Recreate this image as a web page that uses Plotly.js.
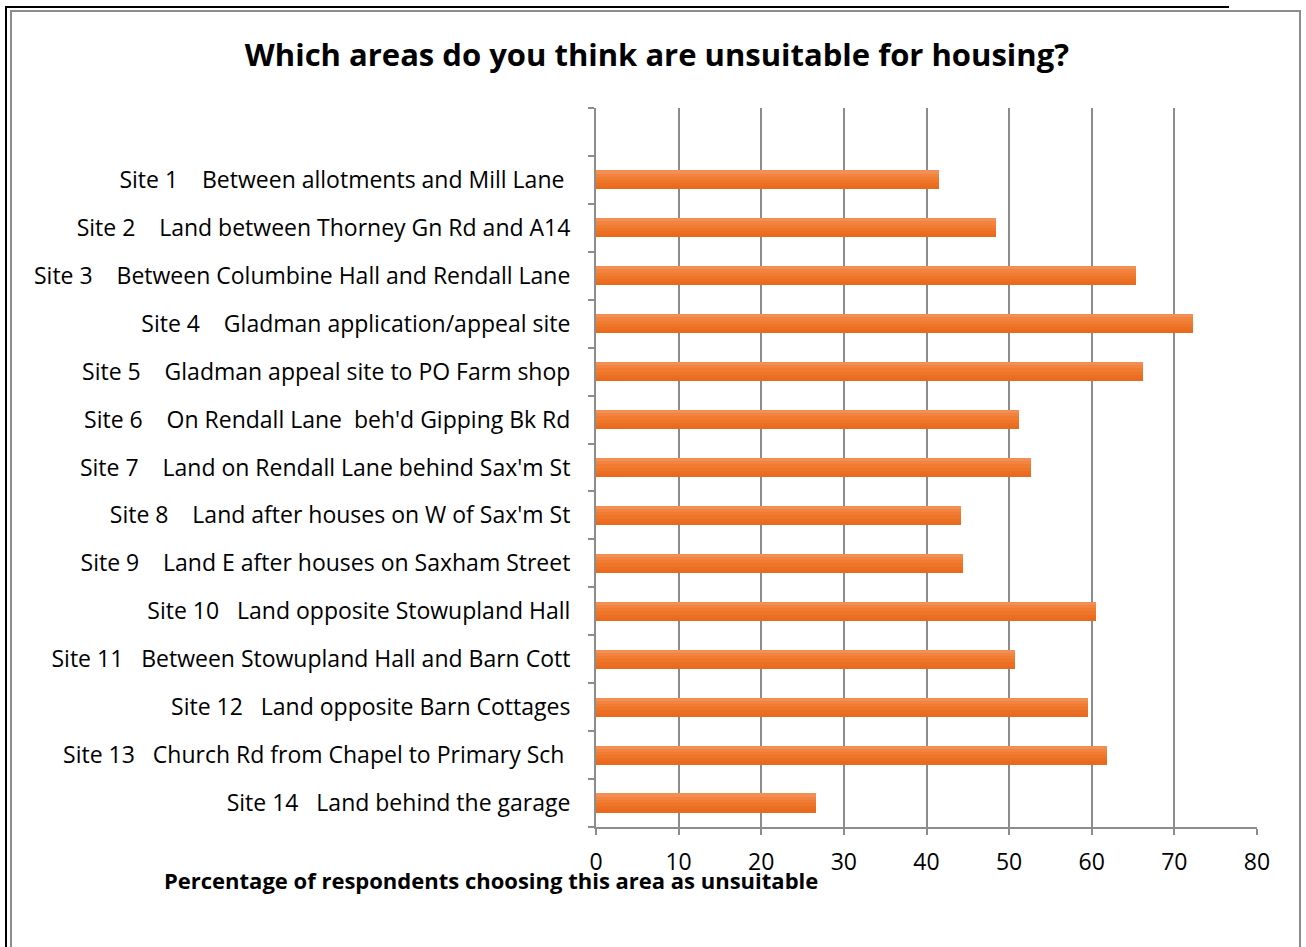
<!DOCTYPE html>
<html>
<head>
<meta charset="utf-8">
<script src="https://cdn.plot.ly/plotly-3.0.1.min.js"></script>
<style>
  html, body { margin: 0; padding: 0; background: #fff; }
  #wrap { position: relative; width: 1306px; height: 947px; overflow: hidden; }
  #chart { position: absolute; left: 0; top: 0; width: 1306px; height: 947px; }
  .frame { position: absolute; pointer-events: none; }
</style>
</head>
<body>
<div id="wrap">
  <div id="chart"></div>
  <div class="frame" style="left:5px; top:6px; width:1224px; height:2px; background:#000;"></div>
  <div class="frame" style="left:5px; top:6px; width:2px; height:941px; background:#000;"></div>
  <div class="frame" style="left:10px; top:10px; width:1291px; height:2px; background:#8c8c8c;"></div>
  <div class="frame" style="left:10px; top:10px; width:2px; height:937px; background:#8c8c8c;"></div>
  <div class="frame" style="left:1299px; top:10px; width:2px; height:937px; background:#8c8c8c;"></div>
</div>
<script>
// ---- data ----
const siteLabels = [
  "Site 1    Between allotments and Mill Lane ",
  "Site 2    Land between Thorney Gn Rd and A14",
  "Site 3    Between Columbine Hall and Rendall Lane",
  "Site 4    Gladman application/appeal site",
  "Site 5    Gladman appeal site to PO Farm shop",
  "Site 6    On Rendall Lane  beh'd Gipping Bk Rd",
  "Site 7    Land on Rendall Lane behind Sax'm St",
  "Site 8    Land after houses on W of Sax'm St",
  "Site 9    Land E after houses on Saxham Street",
  "Site 10   Land opposite Stowupland Hall",
  "Site 11   Between Stowupland Hall and Barn Cott",
  "Site 12   Land opposite Barn Cottages",
  "Site 13   Church Rd from Chapel to Primary Sch ",
  "Site 14   Land behind the garage"
];
const pctUnsuitable = [41.5, 48.4, 65.4, 72.2, 66.2, 51.2, 52.6, 44.2, 44.4, 60.5, 50.7, 59.5, 61.8, 26.6];
const xTickValues = [0, 10, 20, 30, 40, 50, 60, 70, 80];
const chartTitle = "Which areas do you think are unsuitable for housing?";
const xAxisTitle = "Percentage of respondents choosing this area as unsuitable";

// ---- build ----
const nb = s => s.replace(/ /g, "\u00a0");
const cats = siteLabels.map(nb);
const blankCat = "\u00a0";
const catOrder = cats.slice().reverse().concat([blankCat]);

// gradient bands (bottom -> top)
const bandColors = ["#E86B1D", "#EB6F22", "#EE7529", "#F07C32", "#F2843F", "#F38E55"];
const barThick = 0.4;
const bw = barThick / bandColors.length;
const traces = bandColors.map((c, k) => ({
  type: "bar",
  orientation: "h",
  x: pctUnsuitable,
  y: cats,
  width: bw,
  offset: -barThick / 2 + k * bw,
  marker: { color: c, line: { width: 0 } },
  hoverinfo: k === 0 ? "x+y" : "skip",
  showlegend: false
}));

const font = "Open Sans, Liberation Sans, Arial, sans-serif";
const layout = {
  width: 1306,
  height: 947,
  margin: { l: 596, r: 49, t: 108, b: 120, pad: 0 },
  paper_bgcolor: "#ffffff",
  plot_bgcolor: "#ffffff",
  barmode: "overlay",
  bargap: 0,
  font: { family: font, color: "#000" },
  title: {
    text: "<b>" + chartTitle + "</b>",
    font: { family: font, size: 31, color: "#000" },
    x: 0.503, xanchor: "center", xref: "container",
    y: 1 - 55 / 947, yanchor: "middle", yref: "container"
  },
  xaxis: {
    range: [0, 80],
    tickmode: "array",
    tickvals: xTickValues,
    ticktext: xTickValues.map(String),
    showgrid: true,
    gridcolor: "#8c8c8c",
    gridwidth: 2,
    zeroline: false,
    showline: true,
    linecolor: "#8c8c8c",
    linewidth: 2,
    ticks: "outside",
    ticklen: 6,
    tickwidth: 2,
    tickcolor: "#8c8c8c",
    tickfont: { family: font, size: 23, color: "#000" },
    ticklabelstandoff: 7,
    fixedrange: true
  },
  yaxis: {
    type: "category",
    categoryorder: "array",
    categoryarray: catOrder,
    range: [-0.5, catOrder.length - 0.5],
    tickson: "boundaries",
    showgrid: false,
    zeroline: false,
    showline: true,
    linecolor: "#8c8c8c",
    linewidth: 2,
    ticks: "outside",
    ticklen: 6,
    tickwidth: 2,
    tickcolor: "#8c8c8c",
    tickfont: { family: font, size: 23, color: "#000" },
    ticklabelstandoff: 19,
    fixedrange: true
  },
  annotations: [{
    text: "<b>" + xAxisTitle + "</b>",
    xref: "paper", yref: "paper",
    x: (491 - 596) / 661, y: (827 - 880) / 719,
    xanchor: "center", yanchor: "middle",
    showarrow: false,
    font: { family: font, size: 22, color: "#000" }
  }]
};

Plotly.newPlot("chart", traces, layout, { displayModeBar: false, staticPlot: true });
</script>
</body>
</html>
